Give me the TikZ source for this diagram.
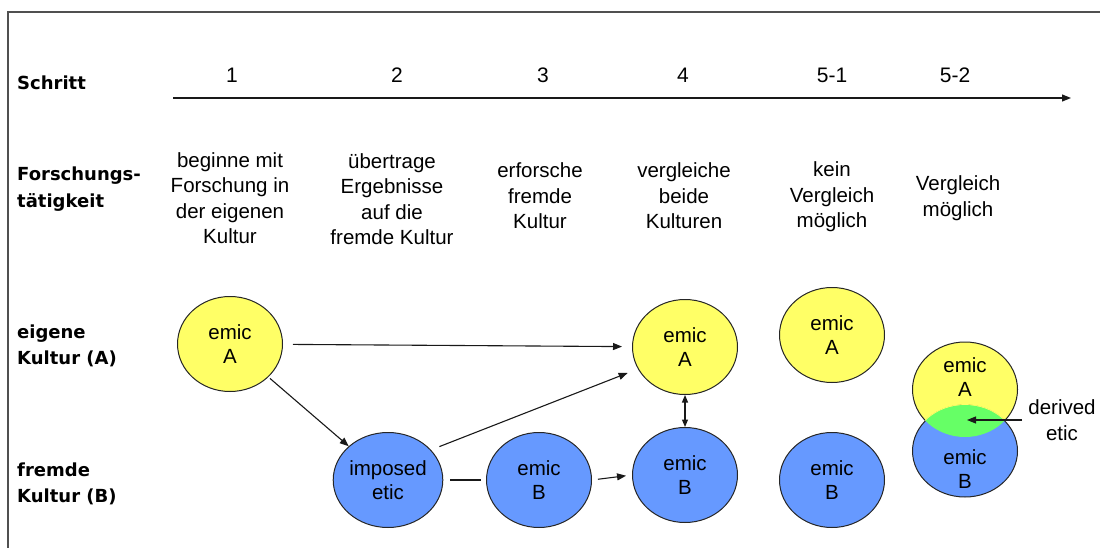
\documentclass[tikz,border=0pt]{standalone}
\usepackage{fontspec}
\setmainfont{Liberation Sans}
\newfontfamily\labfont{DejaVu Sans}
\usetikzlibrary{shapes.geometric,arrows.meta}
\definecolor{yelfill}{HTML}{FFFF66}
\definecolor{bluefill}{HTML}{6699FF}
\definecolor{greenfill}{HTML}{66FF66}
\definecolor{framegray}{HTML}{505050}
\begin{document}
\begin{tikzpicture}[x=1pt,y=-1pt,
  txt/.style={font=\fontsize{20.5}{25.5}\selectfont, align=center, inner sep=0pt},
  rowlab/.style={font=\labfont\bfseries\fontsize{18}{26.5}\selectfont, align=left, anchor=west, inner sep=0pt},
  num/.style={font=\fontsize{21}{25}\selectfont, inner sep=0pt},
  cult/.style={ellipse, draw=black!85, line width=1pt, minimum width=105pt, minimum height=95pt,
    inner sep=0pt, font=\fontsize{20.5}{24.5}\selectfont, align=center},
  own/.style={cult, fill=yelfill},
  foreign/.style={cult, fill=bluefill},
  link/.style={line width=1.1pt, draw=black!90},
  arr/.style={link, -{Triangle[length=9pt,width=7pt]}},
  dblarr/.style={link, {Triangle[length=7.5pt,width=6pt]}-{Triangle[length=7.5pt,width=6pt]}}
]
\useasboundingbox (0,0) rectangle (1100,548);

% open frame (left and top edges)
\draw[line width=1.8pt, draw=framegray] (8,560) -- (8,12) -- (1110,12);

% row headings
\node[rowlab, anchor=base west] (hstep) at (17,90) {Schritt};
\node[rowlab] (hact) at (17,189) {Forschungs-\\tätigkeit};
\node[rowlab] (hown) at (17,346) {eigene\\Kultur (A)};
\node[rowlab] (hfor) at (17,484) {fremde\\Kultur (B)};

% step axis
\coordinate (axstart) at (173,98);
\coordinate (axend) at (1071,98);
\draw[arr] (axstart) -- (axend);

\node[num] (s1) at (232,75) {1};
\node[num] (s2) at (397,75) {2};
\node[num] (s3) at (543,75) {3};
\node[num] (s4) at (683,75) {4};
\node[num] (s51) at (832,75) {5-1};
\node[num] (s52) at (955,75) {5-2};

% research activities
\node[txt] (t1) at (230,198) {beginne mit\\Forschung in\\der eigenen\\Kultur};
\node[txt] (t2) at (392,199) {übertrage\\Ergebnisse\\auf die\\fremde Kultur};
\node[txt] (t3) at (540,196) {erforsche\\fremde\\Kultur};
\node[txt] (t4) at (684,196) {vergleiche\\beide\\Kulturen};
\node[txt] (t51) at (832,197) {kein\\Vergleich\\möglich};
\node[txt] (t52) at (958,198) {Vergleich\\möglich};

% cultures
\node[own] (a1) at (230,344) {emic\\A};
\node[foreign] (imp) at (388,480) {imposed\\etic};
\node[foreign] (b3) at (539,480) {emic\\B};
\node[own] (a4) at (685,347) {emic\\A};
\node[foreign] (b4) at (685,475) {emic\\B};
\node[own] (a51) at (832,335) {emic\\A};
\node[foreign] (b51) at (832,480) {emic\\B};

% overlapping pair with the derived etic lens
\node[own] (a52) at (965,389.5) {};
\node[foreign, minimum height=92pt] (b52) at (965,451) {};
\begin{scope}
  \clip (965,389.5) ellipse [x radius=52.5, y radius=47.5];
  \draw[yelfill, line width=1.8pt] (965,451) ellipse [x radius=52.5, y radius=46];
  \fill[greenfill] (965,451) ellipse [x radius=52.5, y radius=46];
\end{scope}
\node[txt, font=\fontsize{20.5}{24.5}\selectfont] (la52) at (965,377) {emic\\A};
\node[txt, font=\fontsize{20.5}{24.5}\selectfont] (lb52) at (965,469) {emic\\B};

\node[txt] (der) at (1062,420) {derived\\etic};
\coordinate (lens) at (967,420);
\draw[arr] ([xshift=-6pt]der.west) -- (lens);

% connectors
\draw[arr, shorten <=10pt, shorten >=10pt] (a1) -- (a4);
\draw[arr, shorten <=2pt] (a1) -- (imp);
\draw[arr, shorten <=9pt, shorten >=11pt] (imp.35) -- (a4.205);
\draw[link, shorten <=7pt, shorten >=5pt] (imp.east) -- (b3.west);
\draw[arr, shorten <=6pt, shorten >=6pt] (b3.east) -- (b4.west);
\draw[dblarr] (a4.south) -- (b4.north);
\end{tikzpicture}
\end{document}
